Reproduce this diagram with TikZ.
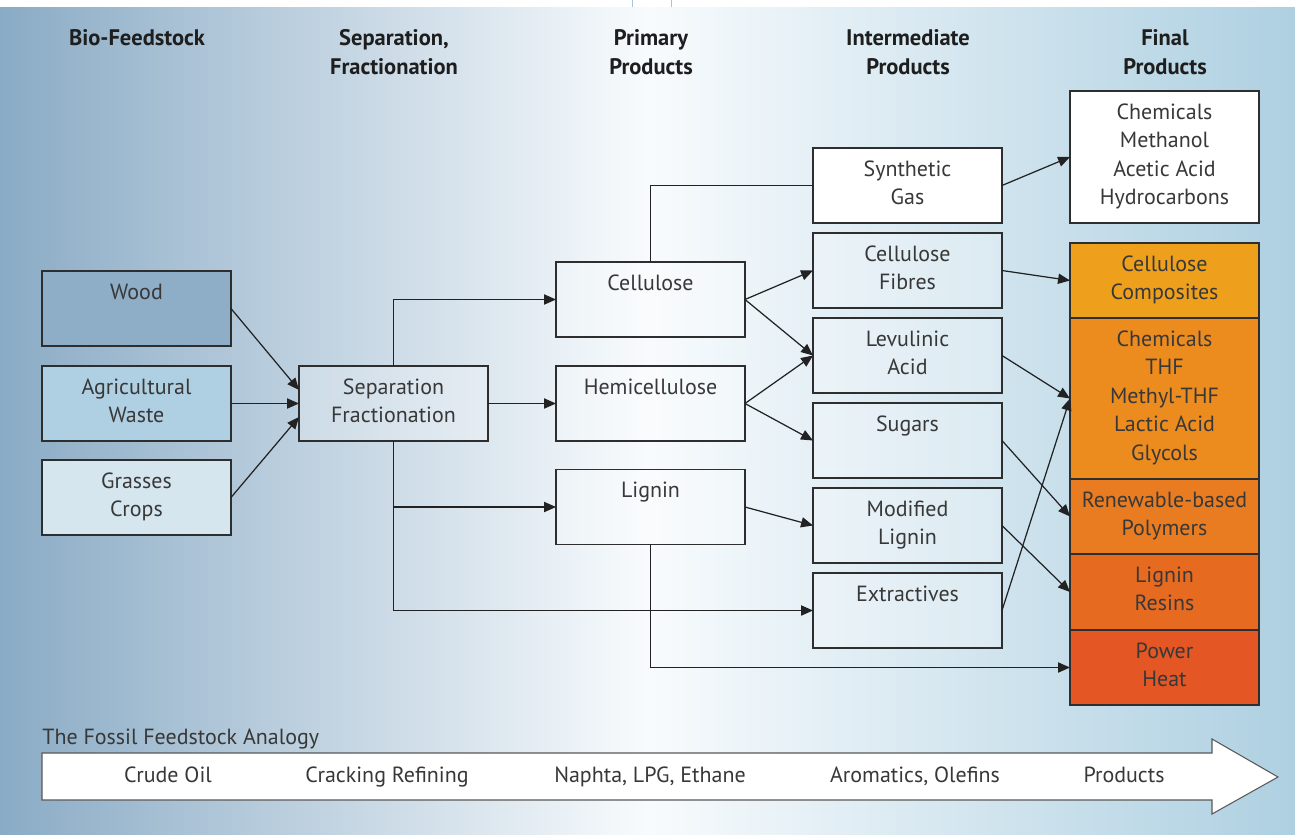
\documentclass[tikz,border=0pt]{standalone}
\usepackage{fontspec}
\setmainfont{PT Sans}
\usetikzlibrary{arrows.meta}
\definecolor{bgL}{HTML}{8AABC5}
\definecolor{bgM}{HTML}{F8FBFD}
\definecolor{bgR}{HTML}{AED0E1}
\definecolor{boxline}{HTML}{2E2E2E}
\definecolor{linec}{HTML}{222222}
\definecolor{txtc}{HTML}{383838}
\definecolor{hdrc}{HTML}{1E1E1E}
\definecolor{woodc}{HTML}{8EADC6}
\definecolor{agric}{HTML}{AFD0E2}
\definecolor{grassc}{HTML}{D5E6EF}
\definecolor{ccc}{HTML}{EEA01D}
\definecolor{chemc}{HTML}{EC8C1F}
\definecolor{renc}{HTML}{E97C20}
\definecolor{lrc}{HTML}{E66B21}
\definecolor{phc}{HTML}{E45623}
\definecolor{stripc}{HTML}{A9C4D6}
\tikzset{
  box/.style={draw=boxline, line width=0.7pt, minimum width=3.78cm, minimum height=1.5cm, inner sep=0pt, outer sep=0pt},
  glass/.style={box, fill=white, fill opacity=0.25},
  txt/.style={font=\fontsize{12.5}{16.2}\selectfont, text=txtc, align=center, inner sep=0pt, anchor=north},
  hdr/.style={font=\bfseries\fontsize{12.8}{16.5}\selectfont, text=hdrc, align=center, inner sep=0pt, anchor=north},
  fos/.style={font=\fontsize{12.5}{15}\selectfont, text=txtc, inner sep=0pt, anchor=base},
  arr/.style={draw=linec, line width=0.7pt, -{Triangle[length=6.8pt,width=5.8pt]}},
  ln/.style={draw=linec, line width=0.7pt}
}
\begin{document}
\begin{tikzpicture}[x=0.02cm, y=-0.02cm]
\useasboundingbox (0,0) rectangle (1295,835);
% background
\fill[white] (0,0) rectangle (1295,7);
\draw[stripc, line width=0.5pt] (632,0) -- (632,7) (671,0) -- (671,7);
\shade[left color=bgL, right color=bgR, middle color=bgM] (0,7) rectangle (1295,835);

% headers
\node[hdr] (h1) at (137,29) {Bio-Feedstock};
\node[hdr] (h2) at (394,29) {Separation,\\Fractionation};
\node[hdr] (h3) at (651,29) {Primary\\Products};
\node[hdr] (h4) at (908,29) {Intermediate\\Products};
\node[hdr] (h5) at (1165,29) {Final\\Products};

% feedstock boxes
\node[box, fill=woodc] (wood) at (136.5,308.5) {};
\node[box, fill=agric] (agri) at (136.5,403.5) {};
\node[box, fill=grassc] (grass) at (136.5,497.5) {};
\node[txt] (woodT) at ([yshift=-0.25cm]wood.north) {Wood};
\node[txt] (agriT) at ([yshift=-0.25cm]agri.north) {Agricultural\\Waste};
\node[txt] (grassT) at ([yshift=-0.25cm]grass.north) {Grasses\\Crops};

% separation
\node[glass] (sep) at (393.5,403.5) {};
\node[txt] (sepT) at ([yshift=-0.25cm]sep.north) {Separation\\Fractionation};

% primary
\node[glass] (cell) at (650.5,299.5) {};
\node[glass] (hemi) at (650.5,403.5) {};
\node[glass] (lig) at (650.5,507) {};
\node[txt] (cellT) at ([yshift=-0.25cm]cell.north) {Cellulose};
\node[txt] (hemiT) at ([yshift=-0.25cm]hemi.north) {Hemicellulose};
\node[txt] (ligT) at ([yshift=-0.25cm]lig.north) {Lignin};

% intermediate
\node[box, fill=white] (syn) at (907.5,185.5) {};
\node[glass] (cf) at (907.5,270.5) {};
\node[glass] (la) at (907.5,355.5) {};
\node[glass] (sug) at (907.5,440.5) {};
\node[glass] (ml) at (907.5,525.5) {};
\node[glass] (ext) at (907.5,610.5) {};
\node[txt] (synT) at ([yshift=-0.25cm]syn.north) {Synthetic\\Gas};
\node[txt] (cfT) at ([yshift=-0.25cm]cf.north) {Cellulose\\Fibres};
\node[txt] (laT) at ([yshift=-0.25cm]la.north) {Levulinic\\Acid};
\node[txt] (sugT) at ([yshift=-0.25cm]sug.north) {Sugars};
\node[txt] (mlT) at ([yshift=-0.25cm]ml.north) {Modified\\Lignin};
\node[txt] (extT) at ([yshift=-0.25cm]ext.north) {Extractives};

% final
\node[box, fill=white, minimum height=2.64cm] (chem1) at (1164.5,157) {};
\node[box, fill=ccc] (cc) at (1164.5,280.5) {};
\node[box, fill=chemc, minimum height=3.22cm] (chem2) at (1164.5,398.5) {};
\node[box, fill=renc] (ren) at (1164.5,516.5) {};
\node[box, fill=lrc, minimum height=1.52cm] (lr) at (1164.5,592) {};
\node[box, fill=phc] (ph) at (1164.5,667.5) {};
\node[txt] (chem1T) at ([yshift=-0.25cm]chem1.north) {Chemicals\\Methanol\\Acetic Acid\\Hydrocarbons};
\node[txt] (ccT) at ([yshift=-0.25cm]cc.north) {Cellulose\\Composites};
\node[txt] (chem2T) at ([yshift=-0.25cm]chem2.north) {Chemicals\\THF\\Methyl-THF\\Lactic Acid\\Glycols};
\node[txt] (renT) at ([yshift=-0.25cm]ren.north) {Renewable-based\\Polymers};
\node[txt] (lrT) at ([yshift=-0.25cm]lr.north) {Lignin\\Resins};
\node[txt] (phT) at ([yshift=-0.25cm]ph.north) {Power\\Heat};

% connectors: feedstock -> separation
\draw[arr] (wood.east) -- ([yshift=0.27cm]sep.west);
\draw[arr] (agri.east) -- (sep.west);
\draw[arr] (grass.east) -- ([yshift=-0.27cm]sep.west);

% separation -> primary
\draw[arr] (sep.north) |- (cell.west);
\draw[arr] (sep.east) -- (hemi.west);
\draw[arr] (sep.south) |- (lig.west);
\draw[arr] (sep.south) |- (ext.west);

% primary -> intermediate
\draw[ln] (cell.north) |- (syn.west);
\draw[arr] (cell.east) -- (cf.west);
\draw[arr] (cell.east) -- (la.west);
\draw[arr] (hemi.east) -- (la.west);
\draw[arr] (hemi.east) -- (sug.west);
\draw[arr] (lig.east) -- (ml.west);
\draw[arr] (lig.south) |- (ph.west);

% intermediate -> final
\draw[arr] (syn.east) -- (chem1.west);
\draw[arr] (cf.east) -- (cc.west);
\draw[arr] (la.east) -- (chem2.west);
\draw[arr] (ext.east) -- (chem2.west);
\draw[arr] (sug.east) -- (ren.west);
\draw[arr] (ml.east) -- (lr.west);

% fossil analogy
\node[fos, anchor=base west] (fosT) at (42,744) {The Fossil Feedstock Analogy};
\draw[draw=boxline!80, line width=0.6pt, fill=white]
  (42,753) -- (1212,753) -- (1212,739) -- (1278,777) -- (1212,814) -- (1212,800) -- (42,800) -- cycle;
\node[fos] (f1) at (168,782) {Crude Oil};
\node[fos] (f2) at (387,782) {Cracking Refining};
\node[fos] (f3) at (650,782) {Naphta, LPG, Ethane};
\node[fos] (f4) at (915,782) {Aromatics, Olefins};
\node[fos] (f5) at (1124,782) {Products};
\end{tikzpicture}
\end{document}
